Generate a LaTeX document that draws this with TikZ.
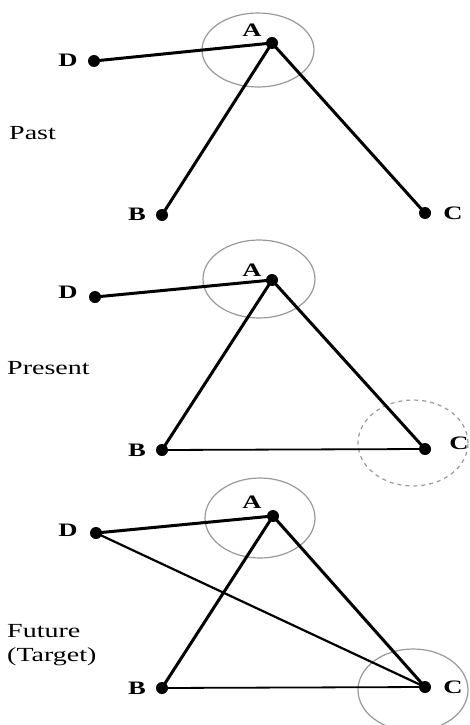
\documentclass[tikz,border=0pt]{standalone}
\usepackage{fontspec}
\setmainfont[FakeStretch=1.4]{Liberation Serif}
\usetikzlibrary{shapes.geometric}
\begin{document}
\begin{tikzpicture}[x=1pt,y=-1pt,
  dot/.style={circle,fill=black,inner sep=0pt,minimum size=12pt},
  lett/.style={font=\fontsize{19}{19}\selectfont\bfseries,inner sep=0pt},
  side/.style={font=\fontsize{20}{24}\selectfont,inner sep=0pt,anchor=west,align=left},
  ring/.style={ellipse,draw=gray!80,line width=1.2pt,inner sep=0pt},
  thick line/.style={line width=3pt},
  mid line/.style={line width=2.2pt},
  thin line/.style={line width=1.8pt}]
\useasboundingbox (0,0) rectangle (470,725);
% ---------- Past ----------
\node[ring,minimum width=112pt,minimum height=74pt] (E1) at (258,50) {};
\node[dot] (A1) at (272,43) {};
\node[dot] (D1) at (94,61) {};
\node[dot] (B1) at (162,215) {};
\node[dot] (C1) at (425,213) {};
\node[lett] (lA1) at (252,30) {A};
\node[lett] (lD1) at (68,60) {D};
\node[lett] (lB1) at (137,214) {B};
\node[lett] (lC1) at (453,213) {C};
\node[side] (past) at (9,133) {Past};
\draw[thick line] (D1.center) -- (A1.center);
\draw[thick line] (A1.center) -- (B1.center);
\draw[thick line] (A1.center) -- (C1.center);
% ---------- Present ----------
\node[ring,minimum width=112pt,minimum height=78pt] (E2) at (259,279) {};
\node[ring,dashed,dash pattern=on 4pt off 4pt,minimum width=110pt,minimum height=86pt] (F2) at (413,443) {};
\node[dot] (A2) at (272,280) {};
\node[dot] (D2) at (95,297) {};
\node[dot] (B2) at (162,450) {};
\node[dot] (C2) at (425,449) {};
\node[lett] (lA2) at (252,270) {A};
\node[lett] (lD2) at (68,292) {D};
\node[lett] (lB2) at (137,450) {B};
\node[lett] (lC2) at (459,443) {C};
\node[side] (present) at (7,368) {Present};
\draw[thick line] (D2.center) -- (A2.center);
\draw[thick line] (A2.center) -- (B2.center);
\draw[thick line] (A2.center) -- (C2.center);
\draw[thin line] (B2.center) -- (C2.center);
% ---------- Future ----------
\node[ring,minimum width=110pt,minimum height=80pt] (E3) at (260,518) {};
\node[ring,minimum width=110pt,minimum height=82pt] (F3) at (413,690) {};
\node[dot] (A3) at (273,516) {};
\node[dot] (D3) at (96,533) {};
\node[dot] (B3) at (162,688) {};
\node[dot] (C3) at (425,687) {};
\node[lett] (lA3) at (252,502) {A};
\node[lett] (lD3) at (68,530) {D};
\node[lett] (lB3) at (137,688) {B};
\node[lett] (lC3) at (453,687) {C};
\node[side] (future) at (7,645) {Future\\(Target)};
\draw[thick line] (D3.center) -- (A3.center);
\draw[thick line] (A3.center) -- (B3.center);
\draw[thick line] (A3.center) -- (C3.center);
\draw[mid line] (D3.center) -- (C3.center);
\draw[thin line] (B3.center) -- (C3.center);
\end{tikzpicture}
\end{document}
